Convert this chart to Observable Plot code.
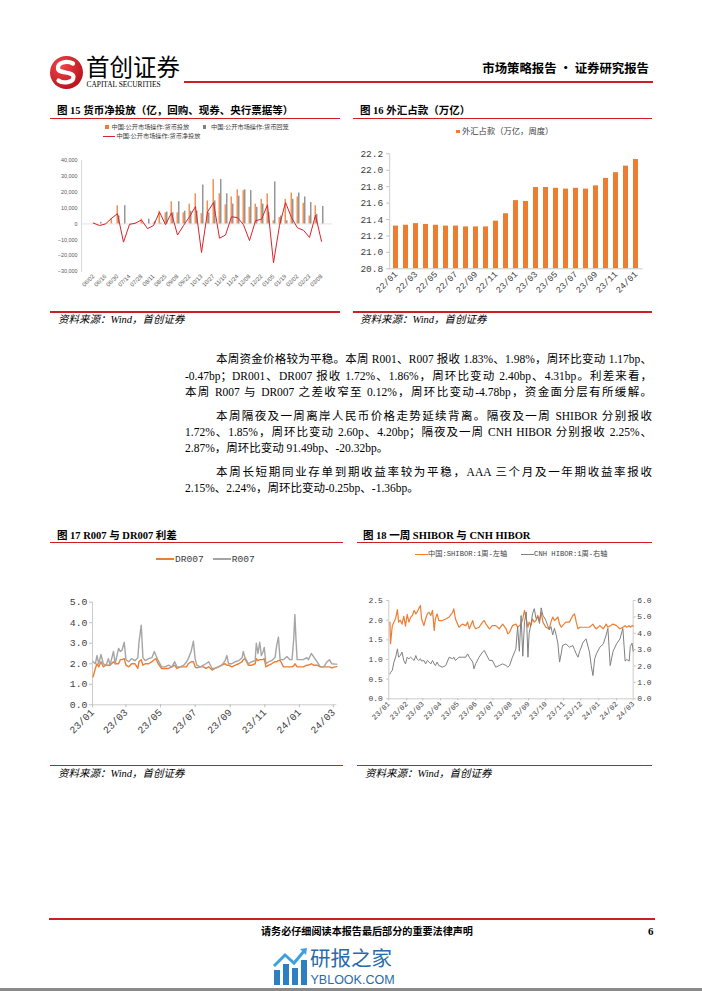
<!DOCTYPE html>
<html><head><meta charset="utf-8">
<script src="https://cdn.jsdelivr.net/npm/d3@7"></script>
<script src="https://cdn.jsdelivr.net/npm/@observablehq/plot@0.6"></script>
<style>
body{margin:0;background:#fff;}
#page{position:relative;width:702px;height:991px;overflow:hidden;font-family:"Liberation Serif","Noto Sans CJK SC",serif;color:#000;}
.t{position:absolute;white-space:nowrap;line-height:1;}
.hr{position:absolute;background:#cc1f24;}
.title{font-weight:bold;font-size:10.5px;}
.src{font-style:italic;font-size:10.5px;}
.para{position:absolute;white-space:nowrap;line-height:1;font-size:11.5px;}
.j{text-align:justify;text-align-last:justify;}
.chart{position:absolute;}
.chart svg{overflow:visible;}
.leg{position:absolute;white-space:nowrap;line-height:1;color:#404040;}
.sw{display:inline-block;vertical-align:middle;}
</style></head>
<body><div id="page">
</div>
<script>
// ---------------- DATA ----------------
// Fig 15: weekly open market operations (100 mn yuan)
const weeks15 = ["06/02","06/09","06/16","06/23","06/30","07/07","07/14","07/21","07/28","08/04","08/11","08/18","08/25","09/01","09/08","09/15","09/22","09/28","10/13","10/20","10/27","11/03","11/10","11/17","11/24","12/01","12/08","12/15","12/22","12/29","01/05","01/12","01/19","01/26","02/02","02/09","02/23","03/01","03/08"];
const inject15 = [500,0,200,3500,11500,0,0,500,3000,0,500,8000,7000,14000,7000,7000,12500,19000,6500,14500,28000,19000,12000,17000,21500,21000,10500,12500,15500,19000,2000,4000,15500,19500,17000,13000,5000,11500,0];
const withdraw15 = [0,1000,200,0,5000,11500,300,0,500,3000,1500,500,7500,7000,14000,8000,8000,8000,24500,7000,14500,28000,19000,12500,17500,21500,21000,10500,12500,7000,26500,5000,2000,15500,19500,17000,13500,6000,11000];
const net15 = [500,-1000,0,3500,6500,-11500,-300,500,2500,-3000,-1000,7500,-500,7000,-7000,-1000,4500,11000,-18000,7500,13500,-9000,-7000,4500,4000,-500,-10500,2000,3000,12000,-24500,-1000,13500,4000,-2500,-4000,-8500,5500,-11000];
const labels15 = ["06/02","06/16","06/30","07/14","07/28","08/11","08/25","09/08","09/22","10/13","10/27","11/10","11/24","12/08","12/22","01/05","01/19","02/02","02/23","03/08"];
const yTicks15 = [-30000,-20000,-10000,0,10000,20000,30000,40000];

// Fig 16: FX funds outstanding (trillion yuan)
const months16 = ["22/01","22/02","22/03","22/04","22/05","22/06","22/07","22/08","22/09","22/10","22/11","22/12","23/01","23/02","23/03","23/04","23/05","23/06","23/07","23/08","23/09","23/10","23/11","23/12","24/01"];
const fx16 = [21.32,21.33,21.35,21.34,21.33,21.32,21.32,21.31,21.31,21.31,21.38,21.47,21.63,21.62,21.79,21.79,21.78,21.77,21.78,21.77,21.81,21.90,21.97,22.05,22.13];
const labels16 = ["22/01","22/03","22/05","22/07","22/09","22/11","23/01","23/03","23/05","23/07","23/09","23/11","24/01"];
const yTicks16 = [20.8,21.0,21.2,21.4,21.6,21.8,22.0,22.2];

// Fig 17: R007 vs DR007 (%)
const dates17 = ["2023-01-02","2023-01-06","2023-01-09","2023-01-12","2023-01-16","2023-01-20","2023-01-25","2023-01-29","2023-02-01","2023-02-07","2023-02-10","2023-02-16","2023-02-19","2023-02-22","2023-02-26","2023-03-01","2023-03-06","2023-03-11","2023-03-17","2023-03-22","2023-03-24","2023-03-28","2023-03-31","2023-04-04","2023-04-10","2023-04-16","2023-04-20","2023-04-23","2023-04-27","2023-05-03","2023-05-09","2023-05-15","2023-05-21","2023-05-26","2023-05-30","2023-06-05","2023-06-11","2023-06-16","2023-06-19","2023-06-24","2023-06-28","2023-07-01","2023-07-04","2023-07-10","2023-07-16","2023-07-20","2023-07-25","2023-07-31","2023-08-05","2023-08-11","2023-08-17","2023-08-23","2023-08-26","2023-08-29","2023-09-04","2023-09-10","2023-09-16","2023-09-22","2023-09-24","2023-09-27","2023-10-03","2023-10-09","2023-10-15","2023-10-17","2023-10-20","2023-10-23","2023-10-26","2023-10-29","2023-10-31","2023-11-03","2023-11-08","2023-11-13","2023-11-19","2023-11-22","2023-11-25","2023-11-28","2023-12-04","2023-12-10","2023-12-15","2023-12-19","2023-12-22","2023-12-24","2023-12-26","2023-12-28","2024-01-02","2024-01-08","2024-01-14","2024-01-17","2024-01-22","2024-01-26","2024-02-01","2024-02-07","2024-02-13","2024-02-19","2024-02-23","2024-02-27","2024-03-04","2024-03-07"];
const r007 = [2.1,2.0,2.4,2.0,2.45,2.0,1.93,2.25,1.93,2.6,2.0,2.75,2.6,2.65,3.05,2.2,2.1,2.25,2.15,2.3,3.05,3.88,2.3,2.15,2.25,2.3,2.6,2.4,2.15,1.85,1.85,1.93,1.85,2.1,1.85,1.85,1.93,2.1,2.25,2.6,3.1,2.25,1.93,1.85,1.93,2.0,2.1,1.77,1.77,1.85,1.93,2.15,2.4,2.0,2.0,2.1,2.15,2.3,2.6,2.3,2.0,2.1,2.15,3.0,2.5,3.05,2.4,2.6,2.8,2.0,2.1,2.15,2.3,2.9,3.3,2.2,2.2,2.35,2.2,2.2,3.2,4.4,3.2,2.2,2.2,2.2,2.3,2.2,2.5,2.35,2.1,1.85,1.85,2.1,2.2,2.0,1.98,1.98];
const dr007 = [1.36,1.77,2.0,1.85,2.1,1.85,1.93,1.93,1.93,2.1,2.0,2.0,2.2,2.2,2.25,1.93,1.85,2.0,2.0,1.77,2.1,2.2,1.93,2.0,2.0,2.1,2.2,2.25,2.0,1.77,1.77,1.77,1.85,1.93,1.77,1.85,1.85,1.85,2.0,2.1,2.1,1.85,1.8,1.85,1.85,1.77,1.85,1.69,1.77,1.85,1.93,2.0,1.93,1.93,1.85,1.93,2.0,2.1,2.2,2.25,1.93,1.93,2.0,2.25,2.15,2.2,2.2,2.2,2.25,1.85,1.93,2.0,2.1,2.1,2.15,2.17,1.85,1.85,1.85,1.85,1.9,2.0,1.93,1.85,1.85,1.85,1.93,1.93,2.0,1.93,1.93,1.85,1.85,1.85,1.85,1.8,1.85,1.86];
const ticks17 = ["2023-01-01","2023-03-01","2023-05-01","2023-07-01","2023-09-01","2023-11-01","2024-01-01","2024-03-01"];
const yTicks17 = [0,1,2,3,4,5];

// Fig 18: 1-week SHIBOR (left) vs CNH HIBOR (right), %
const dates18 = ["2023-01-03","2023-01-04","2023-01-07","2023-01-10","2023-01-13","2023-01-16","2023-01-18","2023-01-21","2023-01-24","2023-01-27","2023-01-30","2023-02-02","2023-02-05","2023-02-08","2023-02-11","2023-02-14","2023-02-17","2023-02-19","2023-02-22","2023-02-25","2023-02-27","2023-03-03","2023-03-06","2023-03-09","2023-03-12","2023-03-15","2023-03-18","2023-03-21","2023-03-23","2023-03-26","2023-03-29","2023-04-04","2023-04-10","2023-04-16","2023-04-22","2023-04-24","2023-04-27","2023-05-03","2023-05-09","2023-05-15","2023-05-18","2023-05-21","2023-05-27","2023-05-29","2023-06-01","2023-06-07","2023-06-13","2023-06-16","2023-06-19","2023-06-25","2023-06-30","2023-07-06","2023-07-12","2023-07-18","2023-07-24","2023-07-27","2023-07-30","2023-08-04","2023-08-10","2023-08-13","2023-08-16","2023-08-19","2023-08-22","2023-08-25","2023-08-28","2023-08-31","2023-09-02","2023-09-05","2023-09-08","2023-09-11","2023-09-14","2023-09-17","2023-09-20","2023-09-23","2023-09-26","2023-10-01","2023-10-07","2023-10-10","2023-10-13","2023-10-16","2023-10-19","2023-10-22","2023-10-25","2023-10-28","2023-10-30","2023-11-05","2023-11-11","2023-11-17","2023-11-20","2023-11-23","2023-11-26","2023-11-29","2023-12-05","2023-12-10","2023-12-16","2023-12-19","2023-12-22","2023-12-25","2023-12-28","2024-01-03","2024-01-09","2024-01-14","2024-01-17","2024-01-21","2024-01-26","2024-02-01","2024-02-07","2024-02-12","2024-02-16","2024-02-19","2024-02-23","2024-02-25","2024-02-28","2024-03-01"];
const shibor18 = [1.95,1.40,1.85,1.95,2.05,2.27,1.95,2.00,1.90,2.10,1.85,2.15,1.95,2.07,2.12,2.25,2.16,2.20,2.29,2.37,2.03,1.86,2.03,2.16,2.20,2.12,2.25,1.74,2.03,2.16,1.99,1.99,2.03,2.08,2.20,2.29,2.03,1.82,1.90,1.86,1.95,1.78,1.99,1.86,1.78,1.82,1.95,1.99,1.90,1.78,1.86,1.86,1.78,1.90,1.78,1.65,1.69,1.86,1.90,1.82,1.86,1.90,2.03,2.25,2.03,1.82,1.95,1.86,2.03,1.95,1.99,2.12,1.99,2.20,1.95,1.82,1.78,1.95,2.08,1.99,2.03,2.08,1.90,1.82,1.86,1.95,1.95,2.12,2.16,1.95,1.78,1.82,1.82,1.82,1.82,1.86,1.90,1.82,1.78,1.86,1.78,1.90,1.82,1.86,1.90,1.86,1.78,1.82,1.86,1.82,1.86,1.82,1.86,1.85];
const cnh18 = [1.52,1.60,1.73,2.25,2.55,3.05,2.54,2.64,2.85,2.34,2.13,2.54,2.44,2.54,2.44,2.34,2.64,2.44,2.34,2.44,2.30,2.34,2.13,2.34,2.24,2.13,2.34,2.13,2.03,2.24,2.03,1.93,2.03,2.54,2.44,2.54,2.34,2.54,2.54,2.54,2.74,2.54,2.24,1.83,2.13,2.54,2.85,2.95,2.74,2.34,2.34,1.93,2.03,2.13,2.03,1.93,2.03,2.54,3.05,4.40,2.90,5.08,2.60,4.70,5.30,2.54,4.00,4.50,5.20,5.50,4.90,5.00,4.60,5.55,5.10,4.80,4.20,4.40,3.90,4.30,3.90,3.40,2.24,2.80,3.25,3.35,3.15,3.25,3.00,2.74,2.54,2.90,3.46,3.66,2.85,2.03,1.42,2.44,2.74,3.15,3.35,3.90,4.30,2.03,2.90,3.35,3.66,4.30,2.30,2.40,2.30,3.20,3.40,2.90];
const ticks18 = ["2023-01-01","2023-02-01","2023-03-01","2023-04-01","2023-05-01","2023-06-01","2023-07-01","2023-08-01","2023-09-01","2023-10-01","2023-11-01","2023-12-01","2024-01-01","2024-02-01","2024-03-01"];
const leftTicks18 = [0,0.5,1.0,1.5,2.0,2.5];
const rightTicks18 = [0,1,2,3,4,5,6];

// ---------------- PAGE ----------------
const page = document.getElementById("page");
function add(html){ page.insertAdjacentHTML("beforeend", html); }
function text(str, left, cy, size, cls="", extra=""){
  add(`<div class="t ${cls}" style="left:${left}px;top:${cy - size/2}px;font-size:${size}px;${extra}">${str}</div>`);
}
function hr(x1, x2, y, h=1.3, color="#cc1f24"){
  add(`<div class="hr" style="left:${x1}px;width:${x2-x1}px;top:${y - h/2}px;height:${h}px;background:${color}"></div>`);
}

// header
add(`<svg style="position:absolute;left:48px;top:54px" width="38" height="38" viewBox="0 0 38 38">
<defs><radialGradient id="lg" cx="0.35" cy="0.3" r="0.8"><stop offset="0" stop-color="#f0454a"/><stop offset="1" stop-color="#b3101a"/></radialGradient></defs>
<circle cx="18.5" cy="18.5" r="16.5" fill="url(#lg)"/>
<path d="M25 9.5 C19 6.5 9.5 8 10 14.5 C10.5 20 25.5 17 25.5 23 C25.5 28.5 15 30 10.5 26.5" fill="none" stroke="#fff" stroke-width="4.2" stroke-linecap="round"/>
</svg>`);
text("首创证券", 86, 68.5, 23.5, "", 'font-family:"Noto Sans CJK SC";font-weight:900;letter-spacing:0.5px;');
text("CAPITAL SECURITIES", 86.5, 84.5, 7.4, "", 'font-family:"Liberation Sans";font-weight:bold;letter-spacing:0.15px;');
hr(184, 653, 81.5, 2);
add(`<div class="t" style="right:${702-649}px;top:${68-6.2}px;font-size:12.4px;font-weight:bold;font-family:'Noto Sans CJK SC'">市场策略报告 · 证券研究报告</div>`);

// titles & source lines
text("图 15 货币净投放（亿，回购、现券、央行票据等）", 57, 111.7, 10.5, "title");
text("图 16 外汇占款（万亿）", 360, 111.7, 10.5, "title");
hr(50, 340, 118.3); hr(353, 652, 118.3);
hr(50, 340, 312); hr(353, 652, 312);
text("资料来源：Wind，首创证券", 58, 320, 10.5, "src");
text("资料来源：Wind，首创证券", 360, 320, 10.5, "src");

text("图 17 R007 与 DR007 利差", 57, 536, 10.5, "title");
text("图 18 一周 SHIBOR 与 CNH HIBOR", 363, 536, 10.5, "title");
hr(50, 343, 542.7); hr(357, 652, 542.7);
hr(50, 343, 765.7); hr(357, 652, 765.7);
text("资料来源：Wind，首创证券", 58, 774, 10.5, "src");
text("资料来源：Wind，首创证券", 365, 774, 10.5, "src");

// paragraphs
function pline(str, left, cy, justify){
  const w = 652 - left;
  add(`<div class="para ${justify ? "j" : ""}" style="left:${left}px;top:${cy-5.75}px;width:${w}px;">${str}</div>`);
}
pline("本周资金价格较为平稳。本周 R001、R007 报收 1.83%、1.98%，周环比变动 1.17bp、", 216, 360, true);
pline("-0.47bp；DR001、DR007 报收 1.72%、1.86%，周环比变动 2.40bp、4.31bp。利差来看，", 185, 376.3, true);
pline("本周 R007 与 DR007 之差收窄至 0.12%，周环比变动-4.78bp，资金面分层有所缓解。", 185, 392.6, true);
pline("本周隔夜及一周离岸人民币价格走势延续背离。隔夜及一周 SHIBOR 分别报收", 216, 416.4, true);
pline("1.72%、1.85%，周环比变动 2.60p、4.20bp；隔夜及一周 CNH HIBOR 分别报收 2.25%、", 185, 432.7, true);
pline("2.87%，周环比变动 91.49bp、-20.32bp。", 185, 449, false);
pline("本周长短期同业存单到期收益率较为平稳，AAA 三个月及一年期收益率报收", 216, 472.8, true);
pline("2.15%、2.24%，周环比变动-0.25bp、-1.36bp。", 185, 489.1, false);

// footer
hr(49, 655, 918.7, 2.2);
text("请务必仔细阅读本报告最后部分的重要法律声明", 261, 931.5, 10.1, "", "font-weight:bold;font-family:'Noto Sans CJK SC'");
text("6", 648, 931.5, 11, "", "font-weight:bold");
add(`<svg style="position:absolute;left:272px;top:946px" width="36" height="40" viewBox="0 0 36 40">
<rect x="2" y="24" width="6" height="15" fill="#2d7fc1"/><rect x="11" y="18" width="6" height="21" fill="#2d7fc1"/>
<rect x="20" y="22" width="6" height="17" fill="#2d7fc1"/><rect x="29" y="14" width="6" height="25" fill="#2d7fc1"/>
<path d="M2 20 L13 9 L22 17 L33 4" fill="none" stroke="#3fa0e0" stroke-width="3"/><path d="M28 3 L35 2 L34 9 Z" fill="#3fa0e0"/>
</svg>`);
text("研报之家", 310, 957, 20.5, "", "font-family:'Noto Sans CJK SC';color:#2a6aa8;");
text("YBLOOK.COM", 310.5, 980.5, 12.5, "", "font-family:'Liberation Sans';color:#2a6aa8;");
add(`<div style="position:absolute;left:0;top:988px;width:702px;height:3px;background:#8a8a8a"></div>`);

function place(svg, left, top){
  const d = document.createElement("div");
  d.className = "chart"; d.style.left = left + "px"; d.style.top = top + "px";
  d.appendChild(svg); page.appendChild(d);
}

// ---------- Chart 15 ----------
{
  const W = 290, H = 145, ml = 31, mr = 8;
  const data = weeks15.map((w, i) => ({w, inj: inject15[i], wd: withdraw15[i], net: net15[i]}));
  const bw = (W - ml - mr) / (weeks15.length + 0.4);
  const h = bw / 2;
  const svg = Plot.plot({
    width: W, height: H, marginLeft: ml, marginRight: mr, marginTop: 10, marginBottom: 24,
    style: {fontFamily: "Liberation Sans", fontSize: "5.5px", color: "#595959", background: "transparent"},
    x: {domain: weeks15, paddingInner: 0, paddingOuter: 0.2, axis: null},
    y: {domain: [-30000, 40000], axis: null},
    marks: [
      Plot.frame({anchor: "left", stroke: "#bfbfbf", strokeWidth: 0.6}),
      Plot.ruleY([0], {stroke: "#d0d0d0", strokeWidth: 0.6}),
      Plot.barY(data, {x: "w", y: "inj", fill: "#ed7d31", insetLeft: h - 0.6, insetRight: h - 1}),
      Plot.barY(data, {x: "w", y: "wd", fill: "#7f7f7f", insetLeft: h + 1, insetRight: h - 2.6}),
      Plot.line(data, {x: "w", y: "net", stroke: "#d9232d", strokeWidth: 1}),
      Plot.axisY({ticks: yTicks15, label: null, tickSize: 0, tickPadding: 4, fontSize: 5.4, fill: "#595959"}),
      Plot.axisX({ticks: labels15, label: null, tickRotate: -45, tickSize: 0, tickPadding: 4, fontSize: 5.8, fill: "#595959"})
    ]
  });
  place(svg, 50, 150);
  add(`<div class="leg" style="left:105px;top:${126.7-3.2}px;font-size:6.2px"><span class="sw" style="width:3.5px;height:3.5px;background:#ed7d31;margin-right:3px"></span>中国:公开市场操作:货币投放</div>`);
  add(`<div class="leg" style="left:202.5px;top:${126.7-3.2}px;font-size:6.2px"><span class="sw" style="width:3.5px;height:3.5px;background:#7f7f7f;margin-right:5px"></span>中国:公开市场操作:货币回笼</div>`);
  add(`<div class="leg" style="left:103px;top:${136-3.2}px;font-size:6.2px"><span class="sw" style="width:11.5px;height:0.9px;background:#d9232d;margin-right:2px"></span>中国:公开市场操作:货币净投放</div>`);
}

// ---------- Chart 16 ----------
{
  const data = months16.map((m, i) => ({m, v: fx16[i]}));
  const svg = Plot.plot({
    width: 302, height: 170, marginLeft: 39.2, marginRight: 9.6, marginTop: 13.3, marginBottom: 41.7,
    style: {fontFamily: "Liberation Mono", fontSize: "9.5px", color: "#404040", background: "transparent"},
    x: {domain: months16, paddingInner: 0.5, paddingOuter: 0.25, axis: null},
    y: {domain: [20.8, 22.2], axis: null},
    marks: [
      Plot.barY(data, {x: "m", y1: 20.8, y2: "v", fill: "#ed7d31"}),
      Plot.ruleY([20.8], {stroke: "#bfbfbf", strokeWidth: 0.8}),
      Plot.frame({anchor: "left", stroke: "#bfbfbf", strokeWidth: 0.8}),
      Plot.axisY({ticks: yTicks16, label: null, tickFormat: d => d.toFixed(1), tickSize: 3, tickPadding: 3.5, stroke: "#bfbfbf", fill: "#404040", fontSize: 9.5}),
      Plot.axisX({ticks: labels16, label: null, tickRotate: -45, tickSize: 0, tickPadding: 4, fill: "#404040", fontSize: 8.8})
    ]
  });
  place(svg, 350, 140);
  add(`<div class="leg" style="left:456px;top:${131.7-4.15}px;font-size:8.3px;font-family:'Liberation Serif','Noto Sans CJK SC'"><span class="sw" style="width:3.5px;height:3.5px;background:#ed7d31;margin-right:2.5px"></span>外汇占款（万亿，周度）</div>`);
}

// ---------- Chart 17 ----------
{
  const data = dates17.map((d, i) => ({date: new Date(d), r: r007[i], dr: dr007[i]}));
  const x0 = new Date("2023-01-01"), x1 = new Date("2024-03-07");
  const svg = Plot.plot({
    width: 293, height: 150, marginLeft: 42, marginRight: 6.7, marginTop: 11.7, marginBottom: 35.7,
    style: {fontFamily: "Liberation Mono", fontSize: "9.5px", color: "#404040", background: "transparent"},
    x: {type: "utc", domain: [x0, x1], axis: null},
    y: {domain: [0, 5], axis: null},
    marks: [
      Plot.ruleX([x0], {stroke: "#bfbfbf", strokeWidth: 0.8}),
      Plot.ruleY([0], {stroke: "#bfbfbf", strokeWidth: 0.8}),
      Plot.line(data, {x: "date", y: "dr", stroke: "#ed7d31", strokeWidth: 1.4}),
      Plot.line(data, {x: "date", y: "r", stroke: "#a5a5a5", strokeWidth: 1.4}),
      Plot.axisY({ticks: yTicks17, label: null, tickFormat: d => d.toFixed(1), tickSize: 3, tickPadding: 2, stroke: "#bfbfbf", fill: "#404040", fontSize: 9.8}),
      Plot.axisX({ticks: ticks17.map(d => new Date(d)), label: null, tickFormat: d3.utcFormat("%y/%m"), tickRotate: -45, tickSize: 3, tickPadding: 3, stroke: "#bfbfbf", fill: "#404040", fontSize: 10})
    ]
  });
  place(svg, 50, 590);
  add(`<div class="leg" style="left:156px;top:${559.3-4.8}px;font-size:9.6px;font-family:'Liberation Mono'"><span class="sw" style="width:18px;height:2px;background:#ed7d31;margin-right:1px"></span>DR007<span class="sw" style="width:18px;height:2px;background:#a5a5a5;margin:0 1px 0 9px"></span>R007</div>`);
}

// ---------- Chart 18 ----------
{
  const k = 2.5 / 6;
  const data = dates18.map((d, i) => ({date: new Date(d), s: shibor18[i], c: cnh18[i]}));
  const x0 = new Date("2023-01-01"), x1 = new Date("2024-03-01");
  const svg = Plot.plot({
    width: 302, height: 140, marginLeft: 38.3, marginRight: 19.3, marginTop: 10, marginBottom: 31.7,
    style: {fontFamily: "Liberation Mono", fontSize: "8px", color: "#404040", background: "transparent"},
    x: {type: "utc", domain: [x0, x1], axis: null},
    y: {domain: [0, 2.5], axis: null},
    marks: [
      Plot.ruleX([x0, x1], {stroke: "#bfbfbf", strokeWidth: 0.8}),
      Plot.ruleY([0], {stroke: "#bfbfbf", strokeWidth: 0.8}),
      Plot.line(data, {x: "date", y: "s", stroke: "#ed7d31", strokeWidth: 1.2}),
      Plot.line(data, {x: "date", y: d => d.c * k, stroke: "#808080", strokeWidth: 1}),
      Plot.axisY({ticks: leftTicks18, label: null, tickFormat: d => d.toFixed(1), tickSize: 2, tickPadding: 4, stroke: "#bfbfbf", fill: "#404040", fontSize: 8}),
      Plot.axisY({anchor: "right", label: null, ticks: rightTicks18.map(v => v * k), tickFormat: d => (d / k).toFixed(1), tickSize: 2, tickPadding: 2, stroke: "#bfbfbf", fill: "#404040", fontSize: 8}),
      Plot.axisX({ticks: ticks18.map(d => new Date(d)), label: null, tickFormat: d3.utcFormat("%y/%m"), tickRotate: -45, tickSize: 2, tickPadding: 2, stroke: "#bfbfbf", fill: "#404040", fontSize: 7.4})
    ]
  });
  place(svg, 350, 590);
  add(`<div class="leg" style="left:415px;top:${555-3.6}px;font-size:7.2px;font-family:'Liberation Mono','Noto Sans CJK SC'"><span class="sw" style="width:13px;height:1.3px;background:#ed7d31"></span>中国:SHIBOR:1周-左轴<span class="sw" style="width:13px;height:1.3px;background:#808080;margin-left:14px"></span>CNH HIBOR:1周-右轴</div>`);
}
</script>
</body></html>
